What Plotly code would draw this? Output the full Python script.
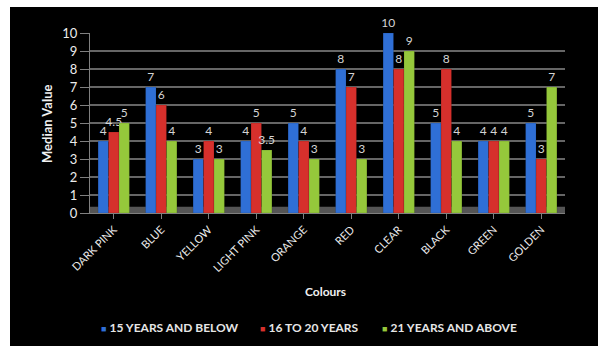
import plotly.graph_objects as go

categories = ["DARK PINK", "BLUE", "YELLOW", "LIGHT PINK", "ORANGE", "RED", "CLEAR", "BLACK", "GREEN", "GOLDEN"]
series_names = ["15 YEARS AND BELOW", "16 TO 20 YEARS", "21 YEARS AND ABOVE"]
age_15_below = [4, 7, 3, 4, 5, 8, 10, 5, 4, 5]
age_16_20 = [4.5, 6, 4, 5, 4, 7, 8, 8, 4, 3]
age_21_above = [5, 4, 3, 3.5, 3, 3, 9, 4, 4, 7]
y_ticks = [0, 1, 2, 3, 4, 5, 6, 7, 8, 9, 10]

colors = ["#2f6fd6", "#d6302c", "#95c83b"]
values = [age_15_below, age_16_20, age_21_above]

W, H = 604, 346
L, R, T, B = 90, 39, 33, 133
pw, ph = W - L - R, H - T - B

def px_x(x):
    return (x - L) / pw

def px_y(y):
    return (H - B - y) / ph

FONT = "Lato"
fig = go.Figure()
for name, vals, col in zip(series_names, values, colors):
    fig.add_trace(go.Bar(
        x=categories, y=vals, name=name, showlegend=False,
        marker=dict(color=col, line=dict(color="rgba(0,0,0,0.25)", width=0.5)),
        text=[("%g" % v) for v in vals], textposition="outside",
        constraintext="none",
        textfont=dict(color="#d4d4d4", size=12, family=FONT),
        cliponaxis=False,
    ))

# legend built as annotations (small square markers like the original)
legend_x = [99, 258, 380]
annotations = []
for name, col, lx in zip(series_names, colors, legend_x):
    annotations.append(dict(
        text='<span style="color:%s;font-size:9px">■</span> <b>%s</b>' % (col, name),
        xref="paper", yref="paper", x=px_x(lx), y=px_y(327),
        xanchor="left", yanchor="middle", showarrow=False,
        font=dict(size=12, color="#e6e6e6", family=FONT)))

annotations += [
    dict(text="<b>Median Value</b>", xref="paper", yref="paper",
         x=px_x(47), y=px_y(124), textangle=-90, showarrow=False,
         font=dict(size=13, color="#f0f0f0", family=FONT), xanchor="center", yanchor="middle"),
    dict(text="<b>Colours</b>", xref="paper", yref="paper",
         x=px_x(325), y=px_y(291), showarrow=False,
         font=dict(size=12, color="#f0f0f0", family=FONT), xanchor="center", yanchor="middle"),
]

fig.update_layout(
    width=W, height=H,
    margin=dict(l=L, r=R, t=T, b=B, pad=0),
    paper_bgcolor="white",
    plot_bgcolor="#3d3d3d",
    barmode="group",
    bargap=0.34,
    bargroupgap=0.0,
    showlegend=False,
    font=dict(family=FONT, color="#e0e0e0"),
    xaxis=dict(
        tickangle=-45, tickfont=dict(size=11, color="#ececec", family=FONT),
        showgrid=False, showline=True, linecolor="#808080", linewidth=1,
        ticks="outside", ticklen=5, tickcolor="#808080",
    ),
    yaxis=dict(
        range=[0, 10], tickvals=y_ticks,
        tickfont=dict(size=13, color="#ececec", family=FONT),
        showgrid=True, gridcolor="#666666", gridwidth=1.5,
        showline=True, linecolor="#808080", zeroline=False,
        ticks="outside", ticklen=9, tickcolor="#808080",
    ),
    shapes=[
        dict(type="rect", xref="paper", yref="paper", layer="below",
             x0=px_x(10), x1=px_x(598), y0=px_y(346), y1=px_y(7),
             fillcolor="black", line=dict(width=0)),
        dict(type="rect", xref="x domain", yref="y domain", layer="below",
             x0=0, x1=1, y0=0, y1=0.035,
             fillcolor="#555555", line=dict(width=0)),
    ],
    annotations=annotations,
)

fig.write_html("out.html")
